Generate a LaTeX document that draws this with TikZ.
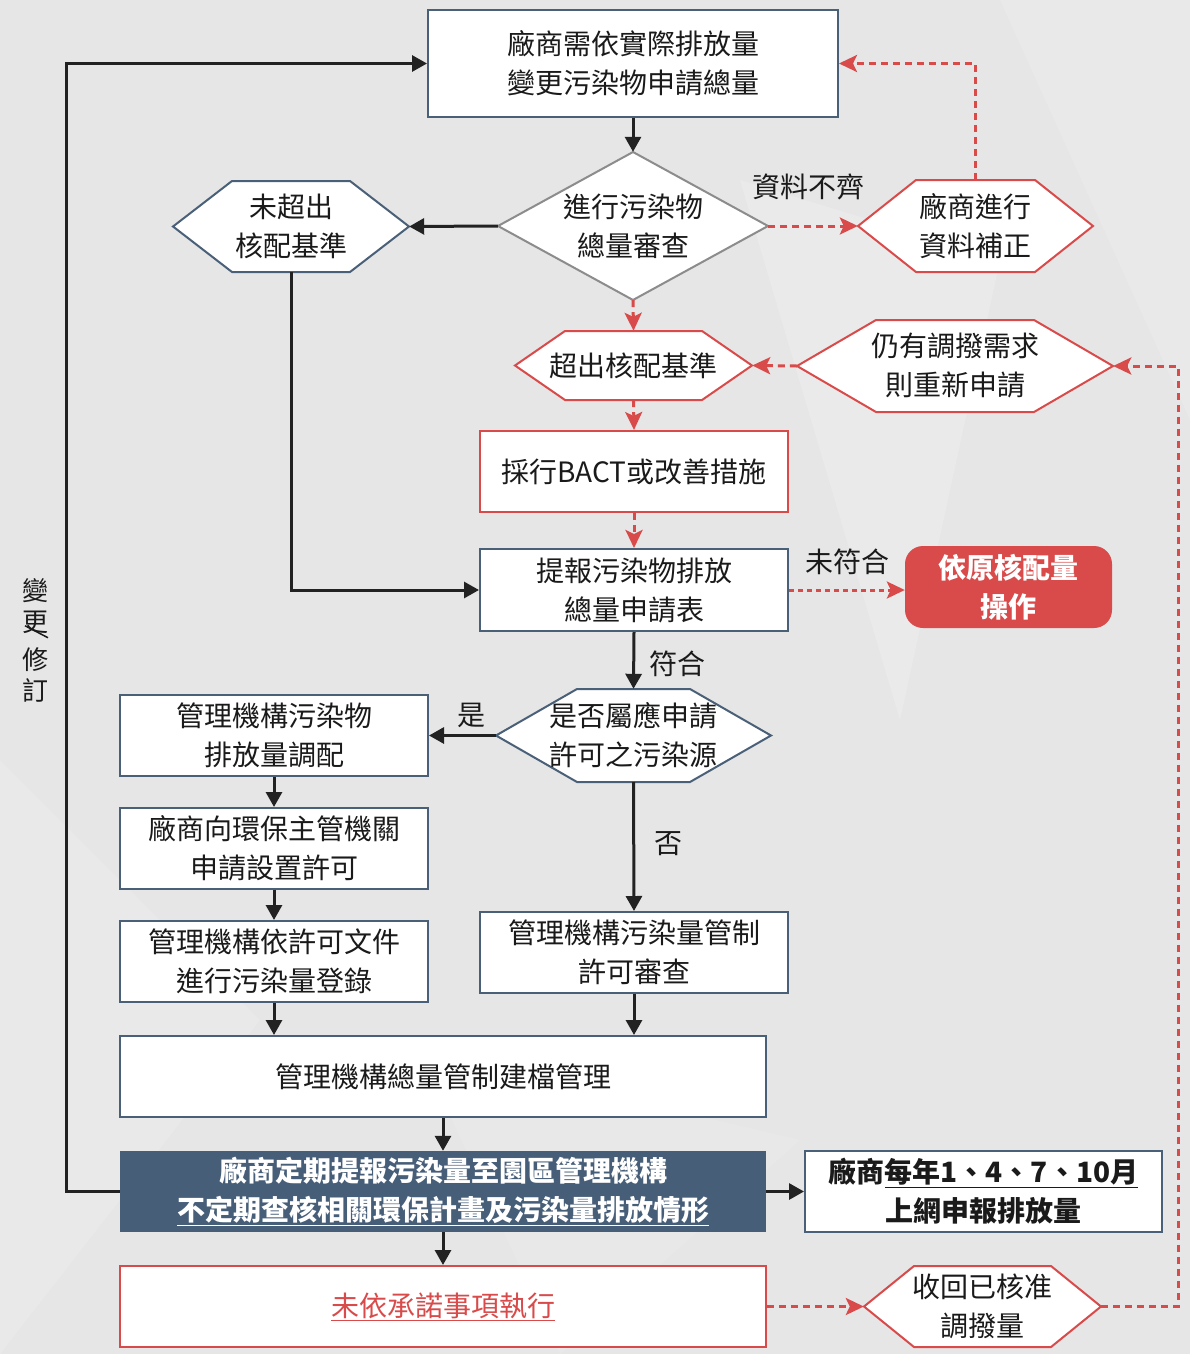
\documentclass[tikz,border=0pt]{standalone}
\usepackage{fontspec}
\setmainfont{Noto Sans CJK TC}
\usetikzlibrary{arrows.meta,calc}
\definecolor{bg}{HTML}{E6E6E6}
\definecolor{navy}{HTML}{4A6079}
\definecolor{navyfill}{HTML}{475E79}
\definecolor{myred}{HTML}{D94A4A}
\definecolor{dark}{HTML}{222222}
\definecolor{greyb}{HTML}{8C8C8C}
\definecolor{ink}{HTML}{1A1A1A}
\newcommand\hexnode[8]{% style, name, cx, cy, w, h, p, text
  \draw[#1] ({#3-#5/2},#4) -- ({#3-#5/2+#7},{#4-#6/2}) -- ({#3+#5/2-#7},{#4-#6/2}) -- ({#3+#5/2},#4) -- ({#3+#5/2-#7},{#4+#6/2}) -- ({#3-#5/2+#7},{#4+#6/2}) -- cycle;
  \node[txt, minimum width=#5pt, minimum height=#6pt] (#2) at (#3,#4) {#8};
}
\newcommand\diamnode[7]{% style, name, cx, cy, w, h, text
  \draw[#1] ({#3-#5/2},#4) -- (#3,{#4-#6/2}) -- ({#3+#5/2},#4) -- (#3,{#4+#6/2}) -- cycle;
  \node[txt, minimum width=#5pt, minimum height=#6pt] (#2) at (#3,#4) {#7};
}
\tikzset{
  txt/.style={inner sep=0pt, align=center, text=ink, font=\fontsize{28}{39}\selectfont},
  box/.style={txt, draw=navy, line width=2pt, fill=white},
  rbox/.style={txt, draw=myred, line width=2pt, fill=white},
  hexb/.style={draw=navy, line width=2pt, fill=white},
  hexr/.style={draw=myred, line width=2pt, fill=white},
  arr/.style={draw=dark, line width=3pt, -{Triangle[length=15pt,width=16pt]}},
  rarr/.style={draw=myred, line width=3pt, dash pattern=on 7pt off 5pt, -{Stealth[length=18pt,width=17pt,inset=4pt]}},
  lbl/.style={inner sep=0pt, text=ink, font=\fontsize{28}{34}\selectfont},
}
\begin{document}
\begin{tikzpicture}[x=1pt,y=-1pt]
\useasboundingbox (0,0) rectangle (1190,1354);
\fill[bg] (0,0) rectangle (1190,1354);
% faint background facets
\fill[white,opacity=0.18] (740,180) -- (1000,260) -- (900,720) -- cycle;
\fill[white,opacity=0.12] (1000,0) -- (1190,0) -- (1190,420) -- cycle;
\fill[white,opacity=0.12] (0,760) -- (260,1020) -- (0,1354) -- cycle;
\fill[white,opacity=0.10] (420,1050) -- (800,1140) -- (560,1354) -- cycle;

% nodes
\node[box, minimum width=410pt, minimum height=107pt] (top) at (633,63.5) {廠商需依實際排放量\\變更污染物申請總量};
\diamnode{draw=greyb,line width=2pt,fill=white}{rev}{633}{226}{270}{148}{進行污染物\\總量審查}
\hexnode{hexb}{nox}{291}{226.5}{236}{91}{59}{未超出\\核配基準}
\hexnode{hexr}{fix}{975.5}{226}{235}{92}{58}{廠商進行\\資料補正}
\hexnode{hexr}{exc}{633.5}{365.5}{237}{69}{50}{超出核配基準}
\hexnode{hexr}{reapp}{955}{366}{316}{92}{79}{仍有調撥需求\\則重新申請}
\node[rbox, minimum width=308pt, minimum height=81pt] (bact) at (634,471.5) {採行BACT或改善措施};
\node[box, minimum width=308pt, minimum height=82pt] (rep) at (634,590) {提報污染物排放\\總量申請表};
\node[txt, fill=myred, rounded corners=18pt, minimum width=207pt, minimum height=82pt, text=white, font=\fontsize{28}{39}\selectfont\bfseries] (orig) at (1008.5,587) {依原核配量\\操作};
\hexnode{hexb}{need}{633.5}{735.5}{275}{93}{81}{是否屬應申請\\許可之污染源}
\node[box, minimum width=308pt, minimum height=81pt] (alloc) at (274,735.5) {管理機構污染物\\排放量調配};
\node[box, minimum width=308pt, minimum height=81pt] (apply) at (274,848.5) {廠商向環保主管機關\\申請設置許可};
\node[box, minimum width=308pt, minimum height=81pt] (reg) at (274,961.5) {管理機構依許可文件\\進行污染量登錄};
\node[box, minimum width=308pt, minimum height=81pt] (ctrl) at (634,952.5) {管理機構污染量管制\\許可審查};
\node[box, minimum width=646pt, minimum height=81pt] (file) at (443,1076.5) {管理機構總量管制建檔管理};
\node[txt, fill=navyfill, minimum width=646pt, minimum height=81pt, text=white, font=\fontsize{28}{39}\selectfont\bfseries] (period) at (443,1191.5) {廠商定期提報污染量至園區管理機構\\\underline{不定期查核相關環保計畫及污染量排放情形}};
\node[box, minimum width=357pt, minimum height=81pt, font=\fontsize{28}{39}\selectfont\bfseries] (online) at (983.5,1191.5) {廠商\underline{每年1、4、7、10月}\\上網申報排放量};
\node[rbox, minimum width=646pt, minimum height=81pt, text=myred] (fail) at (443,1306.5) {\underline{未依承諾事項執行}};
\hexnode{hexr}{recall}{982.5}{1306.5}{237}{81}{50}{收回已核准\\調撥量}

% labels
\node[lbl] (l1) at (808,187) {資料不齊};
\node[lbl] (l2) at (847,562) {未符合};
\node[lbl] (l3) at (677,664) {符合};
\node[lbl] (l4) at (471,715) {是};
\node[lbl] (l5) at (668,844) {否};
\node[txt, font=\fontsize{26}{31}\selectfont] (vl1) at (35,606) {變\\更};
\node[txt, font=\fontsize{26}{31}\selectfont] (vl2) at (35,675) {修\\訂};
\draw[ink, line width=1.5pt] ($(vl1.south)+(-10,-8)$) -- ($(vl1.south)+(13,4)$);

% connectors
\draw[arr] (period.west) -- ++(-53,0) |- (top.west);
\draw[arr] (top.south) -- (rev.north);
\draw[arr] (rev.west) -- (nox.east);
\draw[rarr] (rev.east) -- (fix.west);
\draw[rarr] (fix.north) |- (top.east);
\draw[rarr] (rev.south) -- (exc.north);
\draw[rarr] (exc.south) -- (bact.north);
\draw[rarr] (reapp.west) -- (exc.east);
\draw[rarr] (bact.south) -- (rep.north);
\draw[arr] (nox.south) |- (rep.west);
\draw[rarr, dash pattern=on 5pt off 4pt] (rep.east) -- (rep.east -| orig.west);
\draw[arr] (rep.south) -- (need.north);
\draw[arr] (need.west) -- (alloc.east);
\draw[arr] (need.south) -- (ctrl.north);
\draw[arr] (alloc.south) -- (apply.north);
\draw[arr] (apply.south) -- (reg.north);
\draw[arr] (reg.south) -- (reg.south |- file.north);
\draw[arr] (ctrl.south) -- (ctrl.south |- file.north);
\draw[arr] (file.south) -- (period.north);
\draw[arr] (period.east) -- (online.west);
\draw[arr] (period.south) -- (fail.north);
\draw[rarr] (fail.east) -- (recall.west);
\draw[rarr] (recall.east) -- ++(77,0) |- (reapp.east);
\end{tikzpicture}
\end{document}
